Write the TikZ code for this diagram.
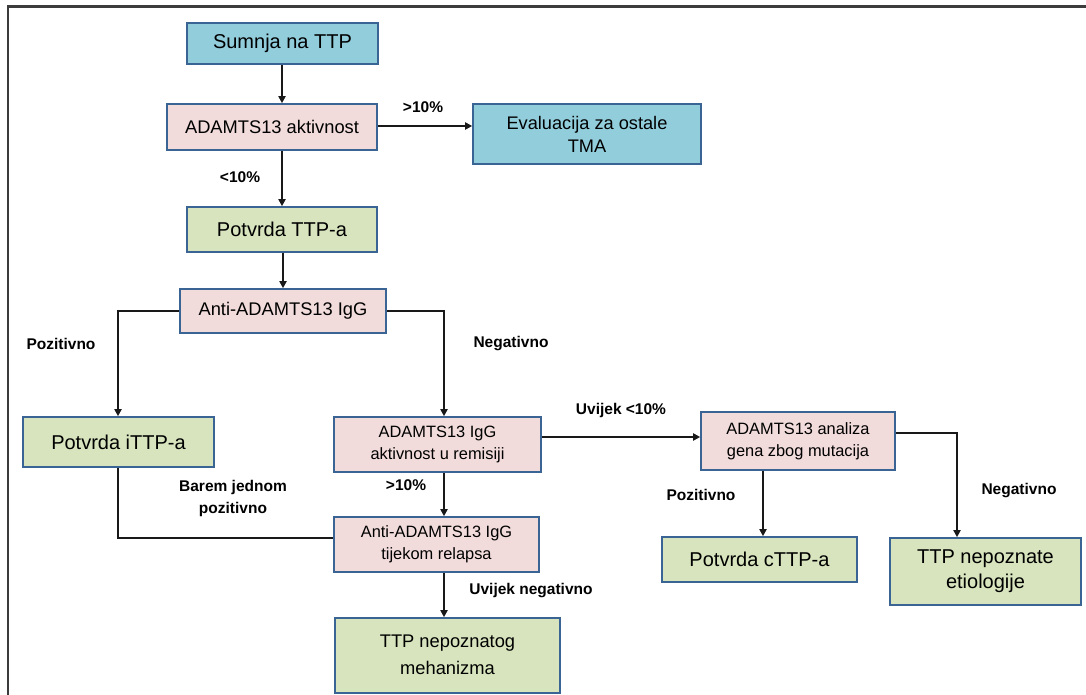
\documentclass[tikz,border=0pt]{standalone}
\usepackage{fontspec}
\setmainfont{Liberation Sans}
\usetikzlibrary{arrows.meta}
\definecolor{bfill}{HTML}{92CDDC}
\definecolor{pfill}{HTML}{F2DCDB}
\definecolor{gfill}{HTML}{D7E4BD}
\definecolor{bord}{HTML}{3A6494}
\definecolor{frame}{HTML}{3C3C3C}
\tikzset{
  box/.style={draw=bord, line width=1.6pt, inner sep=0pt, align=center, text=black},
  bluebox/.style={box, fill=bfill},
  pinkbox/.style={box, fill=pfill},
  greenbox/.style={box, fill=gfill},
  conn/.style={line width=1.9pt, black!90},
  arr/.style={conn, -{Triangle[length=7pt,width=7pt]}},
  lab/.style={font=\bfseries\fontsize{15.5}{22}\selectfont, inner sep=0pt, align=center, text=black},
  fbig/.style={font=\fontsize{20}{25}\selectfont},
  fmid/.style={font=\fontsize{18.3}{24}\selectfont},
  fsmall/.style={font=\fontsize{16.4}{22}\selectfont}
}
\begin{document}
\begin{tikzpicture}[x=1pt,y=-1pt]
\useasboundingbox (0,0) rectangle (1086,695);
\fill[white] (0,0) rectangle (1086,695);
% frame
\draw[frame, line width=2.2pt] (8,695) -- (8,6.5) -- (1086,6.5);

% nodes
\node[bluebox, fbig, minimum width=191pt, minimum height=41pt] (sumnja) at (282.5,43.5) {Sumnja na TTP};
\node[pinkbox, fmid, minimum width=210pt, minimum height=46pt] (akt) at (272,127) {ADAMTS13 aktivnost};
\node[bluebox, minimum width=228pt, minimum height=60pt, font=\fontsize{18.2}{23}\selectfont] (eval) at (587,134) {Evaluacija za ostale\\TMA};
\node[greenbox, fbig, minimum width=190pt, minimum height=45pt] (potvrda) at (282,229.5) {Potvrda TTP-a};
\node[pinkbox, fmid, minimum width=206pt, minimum height=44pt] (anti) at (283,311) {Anti-ADAMTS13 IgG};
\node[greenbox, fbig, minimum width=191pt, minimum height=50pt] (ittp) at (118.5,442) {Potvrda iTTP-a};
\node[pinkbox, fsmall, minimum width=207pt, minimum height=55pt] (rem) at (437.5,444.5) {ADAMTS13 IgG\\aktivnost u remisiji};
\node[pinkbox, fsmall, minimum width=205pt, minimum height=55pt] (rel) at (436.5,544.5) {Anti-ADAMTS13 IgG\\tijekom relapsa};
\node[pinkbox, fsmall, minimum width=194pt, minimum height=58pt] (gen) at (798,441) {ADAMTS13 analiza\\gena zbog mutacija};
\node[greenbox, fbig, minimum width=195pt, minimum height=45pt] (cttp) at (759.5,559.5) {Potvrda cTTP-a};
\node[greenbox, fbig, minimum width=191pt, minimum height=67pt] (etio) at (985.5,571.5) {TTP nepoznate\\etiologije};
\node[greenbox, minimum width=225pt, minimum height=75pt, font=\fontsize{18.3}{26.5}\selectfont] (meh) at (447.5,655.5) {\raisebox{5pt}{\begin{tabular}{@{}c@{}}TTP nepoznatog\\mehanizma\end{tabular}}};

% helper coordinates
\coordinate (c1) at (118,311);
\coordinate (c2) at (444,311);
\coordinate (c3) at (957,433);
\coordinate (c4) at (118,538);

% connectors
\draw[arr] (sumnja.south -| 282,0) -- (akt.north -| 282,0);
\draw[arr] (akt.east |- 0,126) -- (eval.west |- 0,126);
\draw[arr] (akt.south -| 282,0) -- (potvrda.north -| 282,0);
\draw[arr] (potvrda.south -| 283,0) -- (anti.north -| 283,0);
\draw[arr] (anti.west |- c1) -- (c1) -- (ittp.north -| c1);
\draw[arr] (anti.east |- c2) -- (c2) -- (rem.north -| c2);
\draw[arr] (rem.south -| c2) -- (rel.north -| c2);
\draw[arr] (rel.south -| c2) -- (meh.north -| c2);
\draw[arr] (rem.east |- 0,437) -- (gen.west |- 0,437);
\draw[arr] (gen.south -| 763,0) -- (cttp.north -| 763,0);
\draw[arr] (gen.east |- c3) -- (c3) -- (etio.north -| c3);
\draw[conn] (ittp.south -| c4) -- (c4) -- (rel.west |- c4);

% labels
\node[lab] (l1) at (423,107) {>10\%};
\node[lab] (l2) at (240,177) {<10\%};
\node[lab] (l3) at (61,344) {Pozitivno};
\node[lab] (l4) at (511,344) {Negativno};
\node[lab] (l5) at (621,410) {Uvijek <10\%};
\node[lab] (l6) at (233,498) {Barem jednom\\pozitivno};
\node[lab] (l7) at (406,485) {>10\%};
\node[lab] (l8) at (701,495) {Pozitivno};
\node[lab] (l9) at (1019,491) {Negativno};
\node[lab] (l10) at (531,591) {Uvijek negativno};
\end{tikzpicture}
\end{document}
